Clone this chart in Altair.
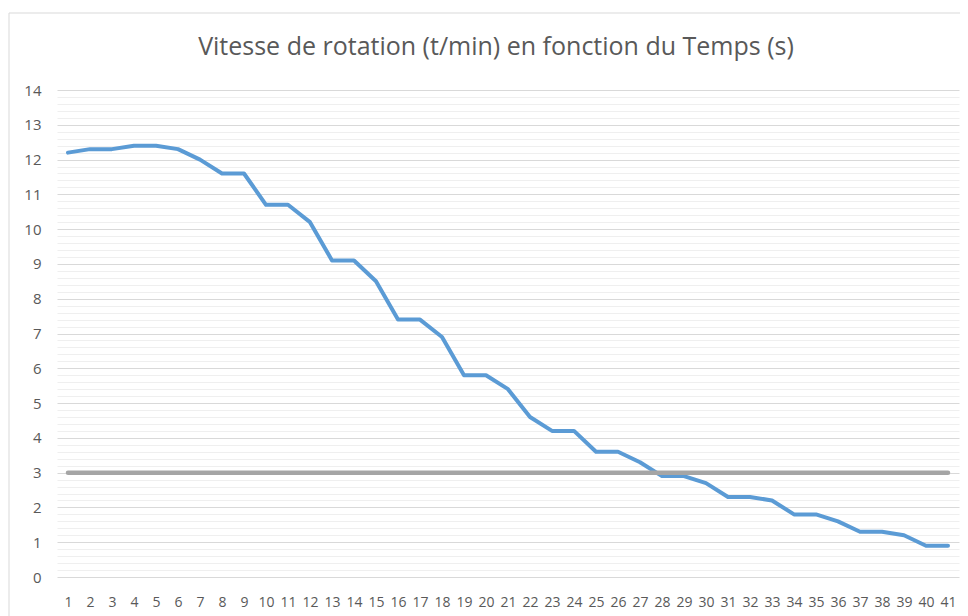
import altair as alt
import pandas as pd

temps = list(range(1, 42))
vitesse = [12.2, 12.3, 12.3, 12.4, 12.4, 12.3, 12.0, 11.6, 11.6, 10.7,
           10.7, 10.2, 9.1, 9.1, 8.5, 7.4, 7.4, 6.9, 5.8, 5.8,
           5.4, 4.6, 4.2, 4.2, 3.6, 3.6, 3.3, 2.9, 2.9, 2.7,
           2.3, 2.3, 2.2, 1.8, 1.8, 1.6, 1.3, 1.3, 1.2, 0.9, 0.9]
seuil = [3] * 41
y_ticks = [round(i * 0.2, 1) for i in range(0, 71)]

df = pd.DataFrame({"Temps": temps, "Vitesse": vitesse, "Seuil": seuil})

FONT = "Open Sans"
TXT = "#595959"

x_axis = alt.Axis(labelAngle=0, domain=False, ticks=False, labelFontSize=14,
                  labelColor=TXT, labelFont=FONT, labelPadding=18,
                  labelOverlap=False, grid=False)

y_scale = alt.Scale(domain=[0, 14], nice=False, zero=True)
y_axis = alt.Axis(values=y_ticks, domain=False, ticks=False, labelFontSize=15,
                  labelColor=TXT, labelFont=FONT, labelPadding=16,
                  labelExpr="abs(datum.value - round(datum.value)) < 0.001 ? format(round(datum.value), 'd') : ''",
                  gridColor={"condition": {"test": "abs(datum.value - round(datum.value)) < 0.001",
                                           "value": "#d9d9d9"}, "value": "#efefef"},
                  gridWidth=1, labelOverlap=False)

base = alt.Chart(df)

blue = base.mark_line(color="#5b9bd5", strokeWidth=4, strokeCap="round", strokeJoin="round").encode(
    x=alt.X("Temps:O", title=None, axis=x_axis),
    y=alt.Y("Vitesse:Q", title=None, scale=y_scale, axis=y_axis),
)
gray = base.mark_line(color="#a5a5a5", strokeWidth=4.5, strokeCap="round").encode(
    x=alt.X("Temps:O", title=None, axis=x_axis),
    y=alt.Y("Seuil:Q", title=None, scale=y_scale, axis=y_axis),
)

border_left = alt.Chart(df.head(1)).mark_rule(color="#d9d9d9", strokeWidth=1).encode(
    x=alt.value(-48), y=alt.value(-77), y2=alt.value(530))
border_top = alt.Chart(df.head(1)).mark_rule(color="#d9d9d9", strokeWidth=1).encode(
    x=alt.value(-48), x2=alt.value(905), y=alt.value(-77))

chart = alt.layer(blue, gray, border_left, border_top).properties(
    width=902, height=487,
    title=alt.Title("Vitesse de rotation (t/min) en fonction du Temps (s)",
                    fontSize=25, font=FONT, fontWeight="normal", color=TXT,
                    offset=0, dy=72, dx=-12, baseline="bottom"),
    autosize=alt.AutoSizeParams(type="none"),
    padding={"left": 49, "top": 82, "right": 1, "bottom": 39},
).configure_view(stroke=None)

chart.save("out.html", embed_options={"renderer": "svg", "actions": False})
